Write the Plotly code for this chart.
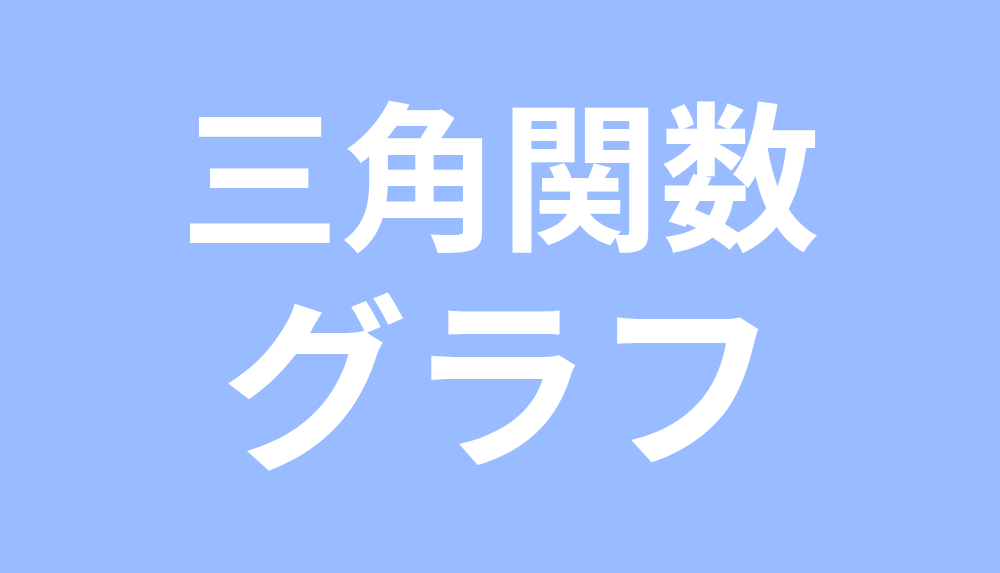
import plotly.graph_objects as go

title_lines = ["三角関数", "グラフ"]
line_sizes = [160, 186]
line_y = [0.707, 0.349]

BG = "#99BBFF"

fig = go.Figure()
for text, size, y in zip(title_lines, line_sizes, line_y):
    fig.add_annotation(
        text=text, x=0.5, y=y, xref="paper", yref="paper",
        xanchor="center", yanchor="middle", showarrow=False,
        font=dict(family="Noto Sans CJK JP", size=size, color="white", weight="bold"),
    )

fig.update_layout(
    width=1000, height=573,
    margin=dict(l=0, r=0, t=0, b=0),
    paper_bgcolor=BG, plot_bgcolor=BG,
    xaxis=dict(visible=False), yaxis=dict(visible=False),
    showlegend=False,
)
fig.write_html(
    "out.html",
    config={"displayModeBar": False},
    post_script="document.body.style.margin='0';document.body.style.background='" + BG + "';",
)
